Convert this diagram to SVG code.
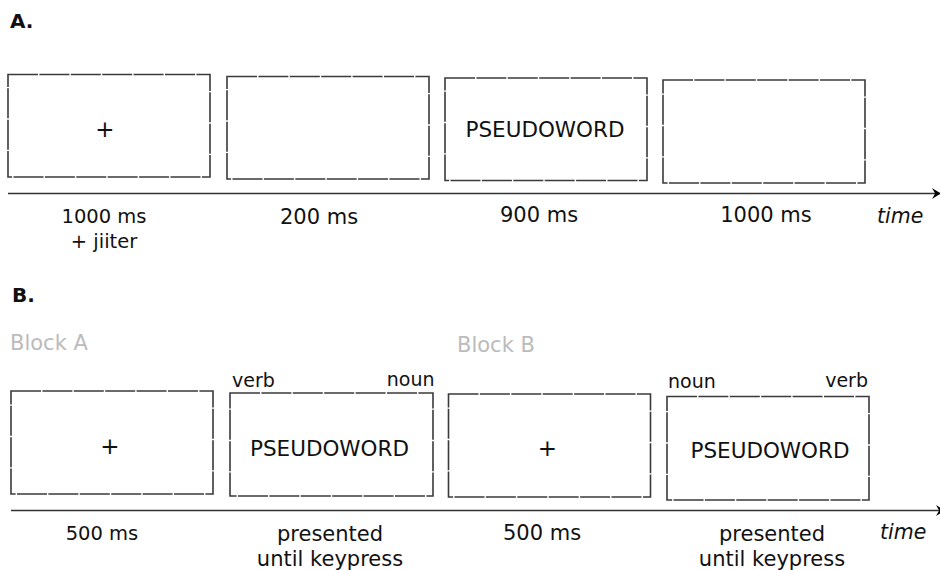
<svg xmlns="http://www.w3.org/2000/svg" width="940" height="570" viewBox="0 0 940 570">
<style>
  .box{fill:none;stroke:#3a3a3a;stroke-width:1.6;stroke-dasharray:30 1.4;}
  .ax{stroke:#333;stroke-width:1.6;fill:none;}
  text{font-family:"DejaVu Sans","Liberation Sans",sans-serif;fill:#111;}
  .hd{font-weight:bold;font-size:20px;}
  .blk{font-size:21px;fill:#bbb;}
  .w{font-size:21.5px;text-anchor:middle;}
  .plus{font-size:23px;text-anchor:middle;}
  .lab{font-size:21px;text-anchor:middle;}
  .sm{font-size:19.5px;text-anchor:middle;}
  .cat{font-size:19px;}
  .t{font-size:20.5px;font-style:italic;}
</style>
<defs>
  <marker id="arr" viewBox="0 0 10 10" refX="10" refY="5" markerWidth="9" markerHeight="11" orient="auto" markerUnits="userSpaceOnUse" preserveAspectRatio="none">
    <path d="M0,0 L10,5 L0,10 L3.5,5 Z" fill="#000"/>
  </marker>
</defs>

<text class="hd" x="10" y="28">A.</text>
<text class="hd" x="12" y="302">B.</text>

<g id="connectors">
  <line class="ax" x1="8" y1="193.5" x2="941" y2="193.5" marker-end="url(#arr)"/>
  <line class="ax" x1="11" y1="510.5" x2="945" y2="510.5" marker-end="url(#arr)"/>
</g>

<g id="a1"><rect class="box" x="8" y="74.5" width="202" height="102.5"/><text class="plus" x="105" y="137">+</text></g>
<g id="a2"><rect class="box" x="227" y="76.5" width="202" height="102.5"/></g>
<g id="a3"><rect class="box" x="445" y="78" width="202" height="102.5"/><text class="w" x="545" y="137">PSEUDOWORD</text></g>
<g id="a4"><rect class="box" x="663" y="80" width="202" height="103"/></g>

<g id="a-labels">
  <text class="sm" x="104" y="222.5">1000 ms</text>
  <text class="sm" x="104" y="248">+ jiiter</text>
  <text class="lab" x="319" y="224">200 ms</text>
  <text class="lab" x="539" y="221.5">900 ms</text>
  <text class="lab" x="766" y="221.5">1000 ms</text>
  <text class="t" x="877" y="222.5">time</text>
</g>

<text class="blk" x="10" y="350">Block A</text>
<text class="blk" x="457" y="352">Block B</text>

<g id="b1"><rect class="box" x="11" y="391" width="202" height="103"/><text class="plus" x="110" y="454">+</text></g>
<g id="b2"><rect class="box" x="230" y="393" width="203" height="103"/><text class="w" x="329.5" y="456">PSEUDOWORD</text>
  <text class="cat" x="232" y="386.5">verb</text><text class="cat" x="434.5" y="386" text-anchor="end">noun</text></g>
<g id="b3"><rect class="box" x="448.5" y="394" width="202" height="103"/><text class="plus" x="547.5" y="456">+</text></g>
<g id="b4"><rect class="box" x="667" y="396.5" width="202" height="103.5"/><text class="w" x="770" y="457.5">PSEUDOWORD</text>
  <text class="cat" x="668" y="387.5">noun</text><text class="cat" x="868" y="387" text-anchor="end">verb</text></g>

<g id="b-labels">
  <text class="sm" x="102" y="540">500 ms</text>
  <text class="lab" x="330" y="541">presented</text>
  <text class="lab" x="330" y="566">until keypress</text>
  <text class="lab" x="542" y="540">500 ms</text>
  <text class="lab" x="772" y="540.5">presented</text>
  <text class="lab" x="772" y="565.5">until keypress</text>
  <text class="t" x="880" y="538.5">time</text>
</g>
</svg>
